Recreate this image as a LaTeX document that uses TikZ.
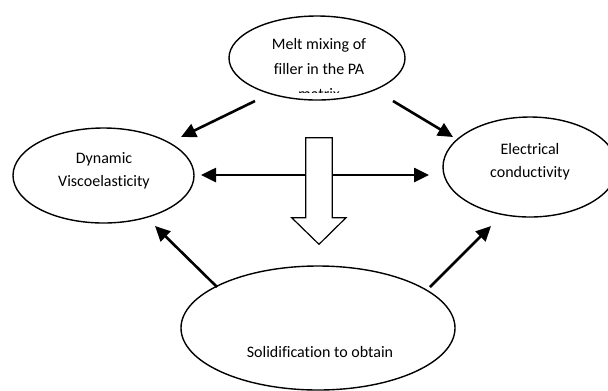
\documentclass[tikz,border=0pt]{standalone}
\usepackage{fontspec}
\setmainfont[Ligatures={NoCommon}]{Carlito}
\usetikzlibrary{shapes.geometric,arrows.meta}
\begin{document}
\begin{tikzpicture}[x=1bp,y=-1bp,
  oval/.style={draw=black,ellipse,line width=1.4bp,inner sep=0pt},
  lbl/.style={align=center,inner sep=0pt,text=black,
    font=\fontsize{16bp}{23bp}\selectfont},
  link/.style={line width=2.6bp,-{Triangle[length=15bp,width=14bp]}},
  bothway/.style={line width=2.6bp,{Triangle[length=15bp,width=14bp]}-{Triangle[length=15bp,width=14bp]}},
  blockarrow/.style={draw=black,fill=white,line width=1.2bp,line join=miter}]
\useasboundingbox (0,0) rectangle (608,390);
\clip (0,0) rectangle (608,390);

% process stages
\node[oval,minimum width=176bp,minimum height=84bp] (melt) at (317,58) {};
\node[oval,minimum width=181bp,minimum height=95bp] (dyn) at (103.5,175.5) {};
\node[oval,minimum width=174bp,minimum height=100bp] (elec) at (530,167) {};
\node[oval,minimum width=274bp,minimum height=124bp] (solid) at (318,328) {};

% labels
\begin{scope}
  \clip (200,0) rectangle (440,92);
  \node[lbl,font=\fontsize{16bp}{25bp}\selectfont] (meltT) at (319,69)
    {Melt mixing of\\filler in the PA\\matrix};
\end{scope}
\node[lbl] (dynT) at (104,170.5) {Dynamic\\Viscoelasticity};
\node[lbl] (elecT) at (530,161.5) {Electrical\\conductivity};
\node[lbl] (solidT) at (320,352) {Solidification to obtain};

% connector end points
\coordinate (mL) at (255,101);  \coordinate (dA) at (181,137);
\coordinate (mR) at (393,101);  \coordinate (eA) at (453,137);
\coordinate (sL) at (217,287);  \coordinate (dB) at (155,226);
\coordinate (sR) at (430,287);  \coordinate (eB) at (491,226);
\coordinate (hL) at (201,175);  \coordinate (hR) at (429,175);

\draw[link] (mL) -- (dA);
\draw[link] (mR) -- (eA);
\draw[link] (sL) -- (dB);
\draw[link] (sR) -- (eB);
\draw[bothway] (hL) -- (hR);

% hollow down arrow
\draw[blockarrow] (305.7,137.7) -- (332.3,137.7) -- (332.3,217.7) -- (346,217.7)
  -- (319,244.3) -- (291.7,217.7) -- (305.7,217.7) -- cycle;
\end{tikzpicture}
\end{document}
